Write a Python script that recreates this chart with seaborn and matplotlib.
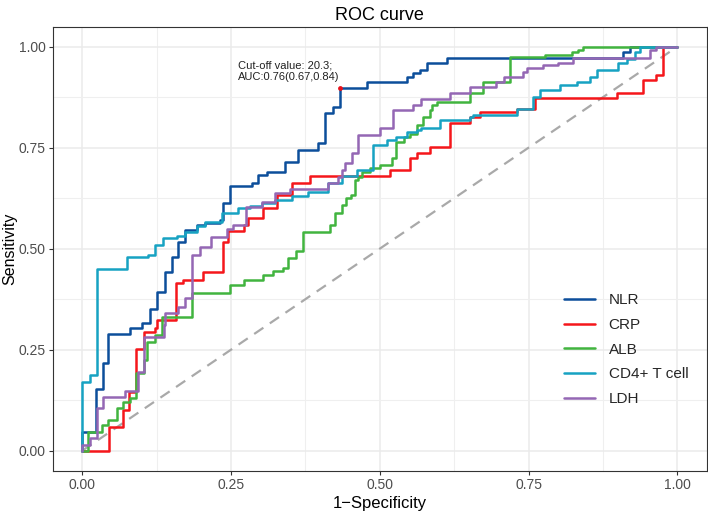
import numpy as np
import pandas as pd
import matplotlib
matplotlib.use("Agg")
import matplotlib.pyplot as plt
from matplotlib.ticker import MultipleLocator, FormatStrFormatter
import seaborn as sns

# ROC step points: at fpr[i] the curve rises to tpr[i]
nlr_fpr = [0, 0, .023, .035, .044, .080, .100, .114, .125, .139, .150, .161, .173, .192, .206, .231, .237, .248,
           .285, .296, .310, .341, .363, .397, .408, .422, .433, .478, .545, .556, .568, .579, .613, .909, .920, 1.0]
nlr_tpr = [0, .045, .152, .216, .289, .303, .316, .350, .394, .443, .480, .517, .546, .559, .564, .571, .612, .655,
           .662, .682, .690, .715, .744, .761, .835, .851, .897, .913, .926, .935, .942, .959, .973, .988, 1.0, 1.0]

crp_fpr = [0, .045, .069, .078, .090, .103, .122, .125, .158, .170, .203, .237, .245, .271, .279, .304, .327,
           .352, .383, .517, .551, .562, .584, .618, .652, .668, .730, .761, .898, .943, .965, .976, 1.0]
crp_tpr = [0, .059, .101, .146, .251, .295, .303, .324, .414, .423, .443, .517, .545, .559, .575, .600, .633,
           .662, .680, .695, .724, .738, .752, .812, .825, .839, .846, .872, .885, .918, .930, 1.0, 1.0]

alb_fpr = [0, .010, .033, .044, .058, .069, .080, .091, .103, .108, .122, .134, .185, .248, .271, .304, .320,
           .338, .346, .360, .371, .416, .424, .436, .444, .452, .458, .464, .470, .484, .500, .520, .528, .540,
           .551, .562, .573, .584, .587, .596, .652, .674, .719, .778, .823, .834, .842, 1.0]
alb_tpr = [0, .045, .064, .076, .105, .121, .130, .192, .224, .270, .286, .330, .390, .410, .423, .435, .445,
           .451, .476, .495, .542, .559, .588, .608, .625, .633, .670, .678, .691, .700, .707, .724, .765, .777,
           .785, .806, .827, .843, .856, .864, .885, .913, .974, .980, .988, .992, 1.0, 1.0]

cd4_fpr = [0, 0, .013, .024, .075, .111, .122, .136, .159, .173, .192, .206, .234, .262, .282, .302, .324, .352,
           .380, .413, .436, .461, .489, .512, .528, .545, .562, .570, .601, .652, .657, .730, .758, .769, .803,
           .831, .853, .865, .901, .915, .929, .937, 1.0]
cd4_tpr = [0, .171, .187, .449, .479, .485, .509, .526, .532, .542, .555, .567, .588, .600, .605, .612, .620, .630,
           .641, .662, .680, .695, .757, .769, .777, .790, .794, .800, .818, .825, .832, .847, .876, .894, .905,
           .913, .926, .942, .959, .969, .988, 1.0, 1.0]

ldh_fpr = [0, 0, .013, .024, .035, .071, .094, .103, .137, .139, .161, .173, .184, .198, .217, .243, .254, .276,
           .302, .324, .349, .413, .430, .436, .441, .453, .464, .500, .523, .556, .570, .618, .652, .696, .708,
           .741, .747, .775, .800, .825, .954, .965, 1.0]
ldh_tpr = [0, .014, .031, .105, .132, .148, .196, .282, .311, .340, .356, .377, .484, .505, .530, .550, .559, .604,
           .616, .637, .649, .662, .678, .695, .711, .736, .781, .798, .843, .856, .870, .885, .901, .913, .926,
           .938, .947, .955, .960, .973, .992, 1.0, 1.0]

markers = ["NLR", "CRP", "ALB", "CD4+ T cell", "LDH"]
colors = ["#0C4E9B", "#F5161B", "#41B43F", "#17A2C2", "#9467B4"]

cutoff_x = 0.433
cutoff_y = 0.897
cutoff_text = "Cut-off value: 20.3;\nAUC:0.76(0.67,0.84)"

frames = []
for name, fpr, tpr in zip(markers,
                          [nlr_fpr, crp_fpr, alb_fpr, cd4_fpr, ldh_fpr],
                          [nlr_tpr, crp_tpr, alb_tpr, cd4_tpr, ldh_tpr]):
    frames.append(pd.DataFrame({"fpr": fpr, "tpr": tpr, "marker": name}))
df = pd.concat(frames, ignore_index=True)

sns.set_theme(style="white")
plt.rcParams["font.family"] = ["Liberation Sans", "DejaVu Sans"]

fig = plt.figure(figsize=(7.08, 5.14), dpi=100)
ax = fig.add_axes([0.0742, 0.0839, 0.9244, 0.8645])

# chance line
ax.plot([0, 1], [0, 1], color="#A9A9A9", lw=1.6, ls=(0, (5, 3.5)), zorder=2)

sns.lineplot(data=df, x="fpr", y="tpr", hue="marker", hue_order=markers, palette=colors,
             estimator=None, sort=False, drawstyle="steps-post", lw=1.8, ax=ax, zorder=3)

ax.scatter([cutoff_x], [cutoff_y], s=6, color="#E8101A", zorder=5)
ax.text(0.262, 0.913, cutoff_text, fontsize=8, color="#222222", ha="left", va="bottom",
        linespacing=1.2)

ax.set_xlim(-0.05, 1.05)
ax.set_ylim(-0.05, 1.05)
ax.xaxis.set_major_locator(MultipleLocator(0.25))
ax.yaxis.set_major_locator(MultipleLocator(0.25))
ax.xaxis.set_minor_locator(MultipleLocator(0.125))
ax.yaxis.set_minor_locator(MultipleLocator(0.125))
ax.xaxis.set_major_formatter(FormatStrFormatter("%.2f"))
ax.yaxis.set_major_formatter(FormatStrFormatter("%.2f"))
ax.grid(which="major", color="#EBEBEB", lw=1.1)
ax.grid(which="minor", color="#EFEFEF", lw=0.8)
ax.set_axisbelow(True)
ax.tick_params(which="major", direction="out", length=3, width=0.8, color="#333333",
               labelsize=10, labelcolor="#4D4D4D", bottom=True, left=True, pad=2)
ax.tick_params(which="minor", length=0)
for s in ax.spines.values():
    s.set_color("#333333")
    s.set_linewidth(0.8)

ax.set_xlabel("1\u2212Specificity", fontsize=12, color="black", labelpad=3)
ax.set_ylabel("Sensitivity", fontsize=11.5, color="black", labelpad=1)
ax.set_title("ROC curve", fontsize=13, color="black", pad=5)

sns.move_legend(ax, loc="center left", bbox_to_anchor=(0.761, 0.273), title=None, frameon=False,
                fontsize=11, handlelength=2.0, handletextpad=0.9, labelspacing=0.7)

fig.savefig("out.png", dpi=100)
